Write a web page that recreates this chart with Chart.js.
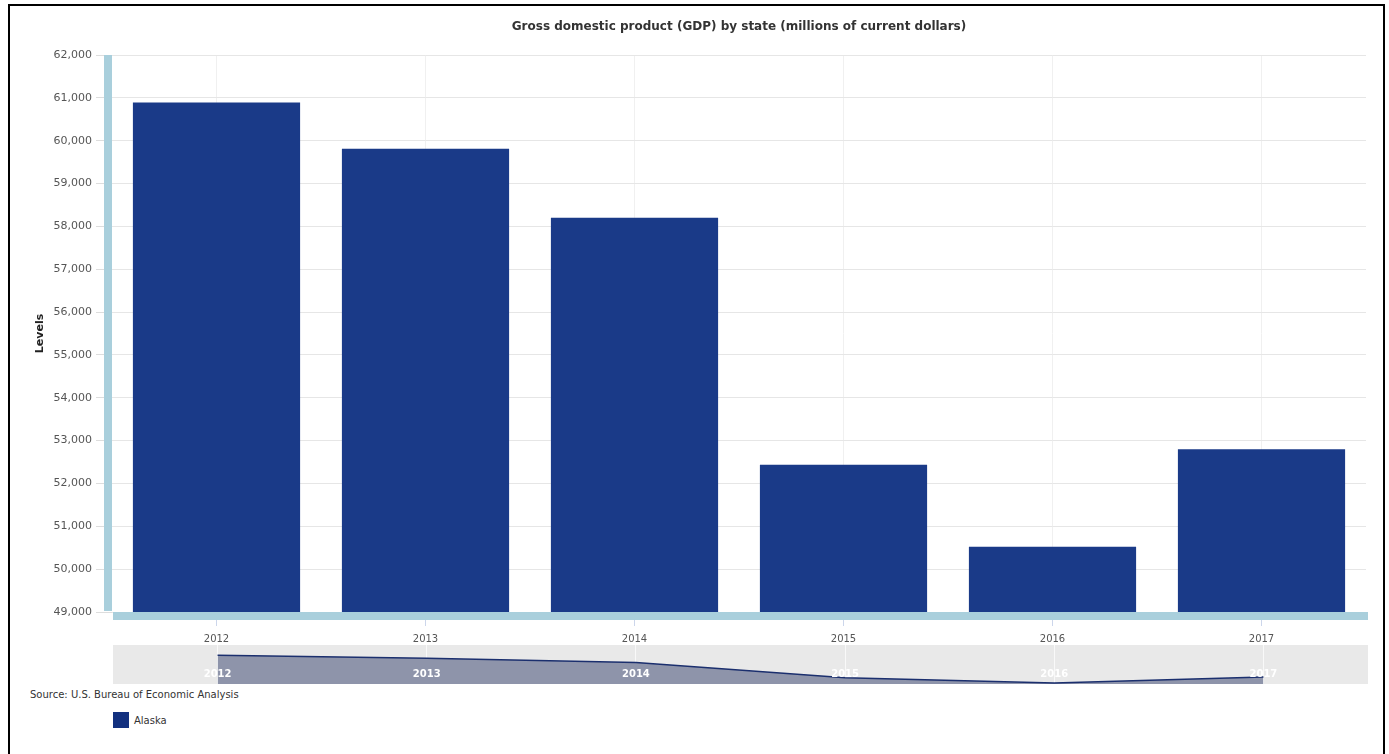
<!DOCTYPE html>
<html>
<head>
<meta charset="utf-8">
<script src="https://cdn.jsdelivr.net/npm/chart.js@4/dist/chart.umd.min.js"></script>
<style>
  html, body { margin: 0; padding: 0; background: #fff; overflow: hidden; }
  body { width: 1389px; height: 754px; position: relative; font-family: "DejaVu Sans", Verdana, sans-serif; }
  #frame { position: absolute; left: 8px; top: 4px; width: 1377px; height: 800px; border: 2px solid #000; box-sizing: border-box; pointer-events: none; }
  #main { position: absolute; left: 0; top: 0; }
  #nav { position: absolute; left: 0; top: 645px; }
  #source { position: absolute; left: 30px; top: 689px; font-size: 10px; color: #333; white-space: nowrap; }
  #legend { position: absolute; left: 113px; top: 712px; height: 16px; display: flex; align-items: center; font-size: 10px; color: #333; }
  #legend .sw { width: 16px; height: 16px; background: #12307f; margin-right: 5px; }
</style>
</head>
<body>
<canvas id="main" width="1389" height="645"></canvas>
<canvas id="nav" width="1389" height="40"></canvas>
<div id="source">Source: U.S. Bureau of Economic Analysis</div>
<div id="legend"><span class="sw"></span><span>Alaska</span></div>
<div id="frame"></div>
<script>
// ---- data ----
const years = ['2012', '2013', '2014', '2015', '2016', '2017'];
const gdpAlaska = [60890, 59813, 58203, 52439, 50525, 52798];
const seriesName = 'Alaska';
const chartTitle = 'Gross domestic product (GDP) by state (millions of current dollars)';
const yAxisTitle = 'Levels';
const yMin = 49000, yMax = 62000, yStep = 1000;

const FONT = '"DejaVu Sans", Verdana, sans-serif';
const BAR_COLOR = '#1a3a88';
const AXIS_BLUE = '#a9cfdc';

const axisBars = {
  id: 'axisBars',
  afterDraw(chart) {
    const {ctx, chartArea: a} = chart;
    ctx.save();
    ctx.fillStyle = AXIS_BLUE;
    ctx.fillRect(a.left - 8, a.top, 8, a.bottom - a.top - 1);
    ctx.fillRect(a.left + 1, a.bottom, a.right - a.left + 1, 8);
    ctx.restore();
  }
};

new Chart(document.getElementById('main'), {
  type: 'bar',
  data: {
    labels: years,
    datasets: [{
      label: seriesName,
      data: gdpAlaska,
      backgroundColor: BAR_COLOR,
      borderWidth: 0,
      barPercentage: 0.8,
      categoryPercentage: 1.0
    }]
  },
  options: {
    responsive: false,
    animation: false,
    layout: { padding: { left: 0, right: 23, top: 0, bottom: 0 } },
    plugins: {
      legend: { display: false },
      tooltip: { enabled: false },
      title: {
        display: true,
        text: chartTitle,
        fullSize: false,
        color: '#333',
        font: { family: FONT, size: 12, weight: 'bold' },
        padding: { top: 20, bottom: 20.6 }
      }
    },
    scales: {
      x: {
        afterFit(s) { s.height = 33; },
        border: { display: false },
        grid: { offset: false, color: '#f0f0f0', tickColor: '#ccd6eb', tickLength: 14 },
        ticks: { color: '#555', padding: 7, font: { family: FONT, size: 10 } }
      },
      y: {
        min: yMin, max: yMax,
        afterFit(s) { s.width = 112; },
        border: { display: false },
        grid: { color: '#e6e6e6', tickColor: '#dddddd', tickLength: 16 },
        ticks: { stepSize: yStep, color: '#555', padding: 4, font: { family: FONT, size: 11 } },
        title: {
          display: true, text: yAxisTitle, color: '#222',
          font: { family: FONT, size: 11, weight: 'bold' },
          padding: { top: 34, bottom: 0 }
        }
      }
    }
  },
  plugins: [axisBars]
});

const navBg = {
  id: 'navBg',
  beforeDraw(chart) {
    const {ctx, chartArea: a} = chart;
    ctx.save();
    ctx.fillStyle = '#e9e9e9';
    ctx.fillRect(a.left, a.top, a.right - a.left, a.bottom - a.top);
    ctx.restore();
  }
};

const navLabels = {
  id: 'navLabels',
  afterDraw(chart) {
    const {ctx, chartArea: a} = chart;
    const xs = chart.scales.x;
    ctx.save();
    ctx.fillStyle = '#ffffff';
    ctx.font = 'bold 10px ' + FONT;
    ctx.textAlign = 'center';
    ctx.textBaseline = 'middle';
    chart.data.labels.forEach((lab, i) => {
      ctx.fillText(lab, xs.getPixelForValue(i), a.bottom - 10);
    });
    ctx.restore();
  }
};

new Chart(document.getElementById('nav'), {
  type: 'line',
  data: {
    labels: years,
    datasets: [{
      label: seriesName,
      data: gdpAlaska,
      borderColor: '#1b2f6e',
      borderWidth: 1.5,
      backgroundColor: '#8e94aa',
      fill: 'start',
      pointRadius: 0,
      tension: 0
    }]
  },
  options: {
    responsive: false,
    animation: false,
    layout: { padding: { left: 113, right: 21, top: 0, bottom: 1 } },
    plugins: { legend: { display: false }, tooltip: { enabled: false }, title: { display: false } },
    scales: {
      x: {
        offset: true,
        z: 1,
        afterFit(s) { s.height = 0; },
        border: { display: false },
        grid: { offset: false, color: 'rgba(255,255,255,0.7)', drawTicks: false },
        ticks: { display: false }
      },
      y: { display: false, min: 50140, max: 64730 }
    }
  },
  plugins: [navBg, navLabels]
});
</script>
</body>
</html>
